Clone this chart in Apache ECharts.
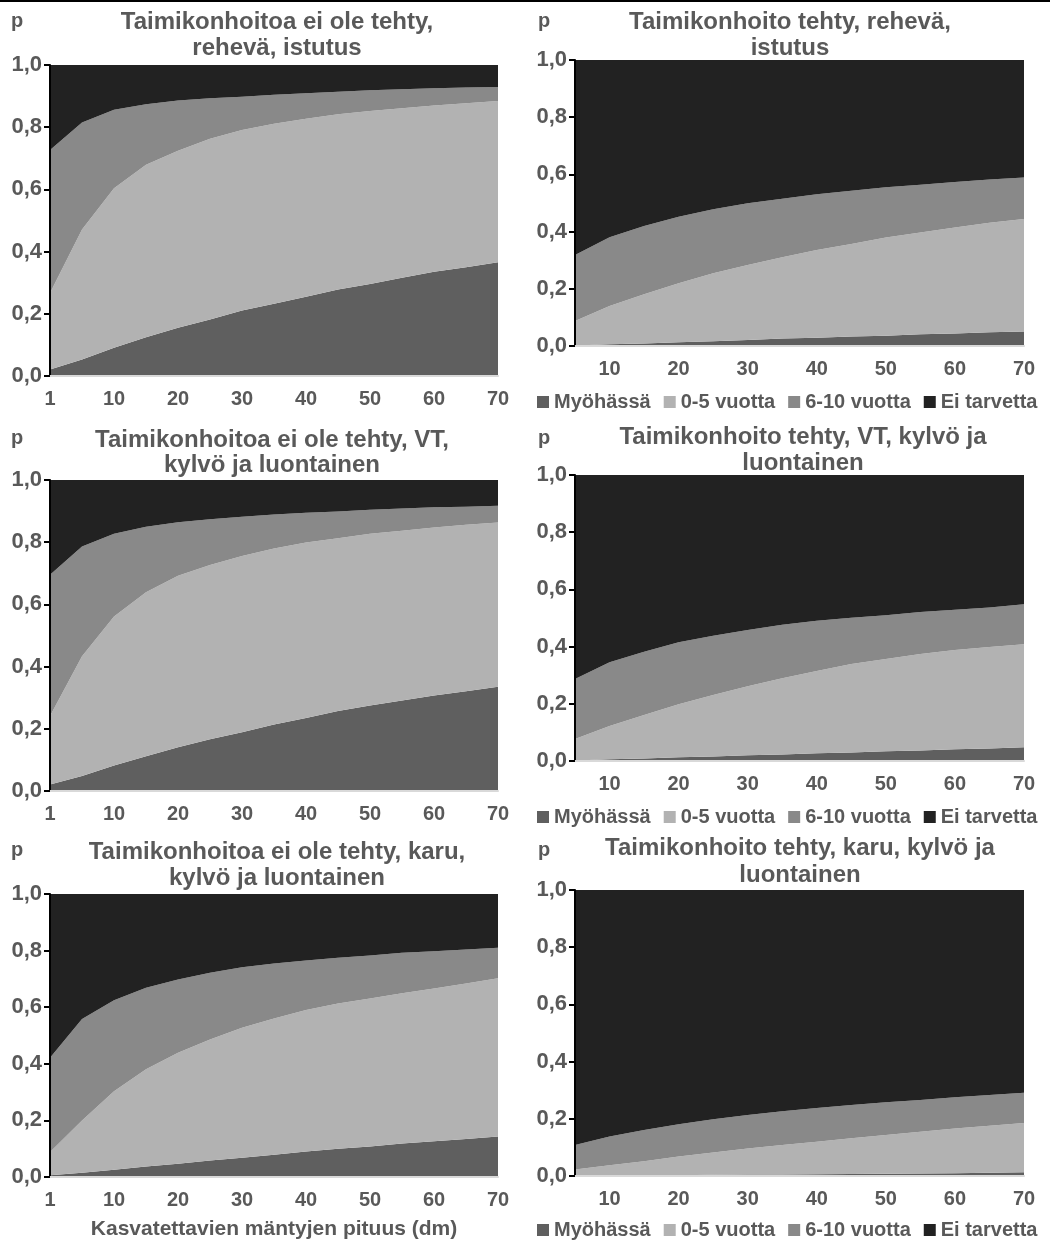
<!DOCTYPE html>
<html>
<head>
<meta charset="utf-8">
<script src="https://cdn.jsdelivr.net/npm/echarts@6/dist/echarts.min.js"></script>
<style>
  html, body { margin: 0; padding: 0; background: #ffffff; }
  #chart { width: 1050px; height: 1245px; }
</style>
</head>
<body>
<div id="chart"></div>
<script>
// ---------- DATA ----------
const catsLeft  = ['1','5','10','15','20','25','30','35','40','45','50','55','60','65','70'];
const catsRight = ['5','10','15','20','25','30','35','40','45','50','55','60','65','70'];
const seriesNames = ['Myöhässä', '0-5 vuotta', '6-10 vuotta', 'Ei tarvetta'];
const yTickValues = [0, 0.2, 0.4, 0.6, 0.8, 1.0];
const xAxisTitle = 'Kasvatettavien mäntyjen pituus (dm)';

// Chart 1: Taimikonhoitoa ei ole tehty, rehevä, istutus
const c1Myoh = [0.021,0.053,0.091,0.125,0.155,0.182,0.211,0.232,0.255,0.278,0.296,0.316,0.335,0.350,0.366];
const c1V05  = [0.246,0.418,0.513,0.554,0.569,0.581,0.580,0.579,0.572,0.564,0.556,0.545,0.535,0.527,0.518];
const c1V610 = [0.460,0.344,0.252,0.195,0.162,0.130,0.107,0.093,0.082,0.072,0.067,0.061,0.055,0.051,0.045];
const c1Ei   = [0.273,0.185,0.144,0.126,0.114,0.107,0.102,0.096,0.091,0.086,0.081,0.078,0.075,0.072,0.071];

// Chart 2: Taimikonhoito tehty, rehevä, istutus
const c2Myoh = [0.002,0.006,0.009,0.013,0.017,0.021,0.026,0.029,0.033,0.036,0.041,0.044,0.048,0.051];
const c2V05  = [0.085,0.134,0.172,0.206,0.237,0.262,0.284,0.307,0.324,0.343,0.356,0.370,0.383,0.393];
const c2V610 = [0.231,0.240,0.239,0.233,0.224,0.216,0.205,0.195,0.186,0.176,0.167,0.159,0.151,0.145];
const c2Ei   = [0.682,0.620,0.580,0.548,0.522,0.501,0.485,0.469,0.457,0.445,0.436,0.427,0.418,0.411];

// Chart 3: Taimikonhoitoa ei ole tehty, VT, kylvö ja luontainen
const c3Myoh = [0.021,0.048,0.082,0.112,0.141,0.166,0.189,0.214,0.235,0.257,0.275,0.291,0.307,0.321,0.335];
const c3V05  = [0.220,0.385,0.479,0.527,0.551,0.561,0.567,0.566,0.564,0.556,0.552,0.546,0.540,0.535,0.528];
const c3V610 = [0.454,0.353,0.266,0.211,0.172,0.147,0.126,0.109,0.096,0.086,0.077,0.071,0.065,0.058,0.054];
const c3Ei   = [0.305,0.214,0.173,0.150,0.136,0.126,0.118,0.111,0.105,0.101,0.096,0.092,0.088,0.086,0.083];

// Chart 4: Taimikonhoito tehty, VT, kylvö ja luontainen
const c4Myoh = [0.002,0.006,0.009,0.013,0.016,0.020,0.023,0.027,0.030,0.034,0.037,0.041,0.044,0.048];
const c4V05  = [0.075,0.116,0.152,0.185,0.215,0.241,0.266,0.288,0.309,0.323,0.337,0.347,0.355,0.360];
const c4V610 = [0.210,0.223,0.221,0.217,0.207,0.197,0.187,0.175,0.162,0.153,0.147,0.141,0.138,0.140];
const c4Ei   = [0.713,0.655,0.618,0.585,0.562,0.542,0.524,0.510,0.499,0.490,0.479,0.471,0.463,0.452];

// Chart 5: Taimikonhoitoa ei ole tehty, karu, kylvö ja luontainen
const c5Myoh = [0.006,0.015,0.026,0.037,0.047,0.058,0.068,0.079,0.090,0.100,0.108,0.118,0.126,0.134,0.143];
const c5V05  = [0.082,0.185,0.277,0.344,0.392,0.428,0.459,0.481,0.500,0.513,0.523,0.531,0.540,0.550,0.559];
const c5V610 = [0.333,0.358,0.322,0.288,0.259,0.236,0.214,0.194,0.175,0.162,0.152,0.143,0.132,0.120,0.108];
const c5Ei   = [0.579,0.442,0.375,0.331,0.302,0.278,0.259,0.246,0.235,0.225,0.217,0.208,0.202,0.196,0.190];

// Chart 6: Taimikonhoito tehty, karu, kylvö ja luontainen
const c6Myoh = [0.001,0.002,0.002,0.003,0.004,0.005,0.005,0.006,0.007,0.008,0.009,0.010,0.011,0.013];
const c6V05  = [0.022,0.036,0.050,0.065,0.078,0.091,0.103,0.114,0.125,0.135,0.146,0.156,0.165,0.172];
const c6V610 = [0.085,0.100,0.109,0.113,0.116,0.117,0.118,0.118,0.116,0.115,0.111,0.109,0.107,0.106];
const c6Ei   = [0.892,0.862,0.839,0.819,0.802,0.787,0.774,0.762,0.752,0.742,0.734,0.725,0.717,0.709];

const titles = [
  ['Taimikonhoitoa ei ole tehty,', 'rehevä, istutus'],
  ['Taimikonhoito tehty, rehevä,', 'istutus'],
  ['Taimikonhoitoa ei ole tehty, VT,', 'kylvö ja luontainen'],
  ['Taimikonhoito tehty, VT, kylvö ja', 'luontainen'],
  ['Taimikonhoitoa ei ole tehty, karu,', 'kylvö ja luontainen'],
  ['Taimikonhoito tehty, karu, kylvö ja', 'luontainen']
];

// ---------- STYLE / LAYOUT ----------
const colors = ['#5f5f5f', '#b2b2b2', '#898989', '#222222'];
const FONT = '"Liberation Sans", Arial, sans-serif';
const TXT = '#595959';

const panels = [
  { cats: catsLeft,  data: [c1Myoh, c1V05, c1V610, c1Ei], grid: {left: 50,  top: 65,  width: 448, height: 311}, side: 'L', title: {x: 277, y1: 22,  y2: 48},  p: {x: 17,  y: 21},  legend: null },
  { cats: catsRight, data: [c2Myoh, c2V05, c2V610, c2Ei], grid: {left: 575, top: 60,  width: 449, height: 286}, side: 'R', title: {x: 790, y1: 22,  y2: 48},  p: {x: 544, y: 21},  legend: 392 },
  { cats: catsLeft,  data: [c3Myoh, c3V05, c3V610, c3Ei], grid: {left: 50,  top: 480, width: 448, height: 311}, side: 'L', title: {x: 272, y1: 440, y2: 465}, p: {x: 17,  y: 438}, legend: null },
  { cats: catsRight, data: [c4Myoh, c4V05, c4V610, c4Ei], grid: {left: 575, top: 475, width: 449, height: 286}, side: 'R', title: {x: 803, y1: 437, y2: 463}, p: {x: 544, y: 438}, legend: 807 },
  { cats: catsLeft,  data: [c5Myoh, c5V05, c5V610, c5Ei], grid: {left: 50,  top: 894, width: 448, height: 283}, side: 'L', title: {x: 277, y1: 852, y2: 878}, p: {x: 17,  y: 850}, legend: null, xName: true },
  { cats: catsRight, data: [c6Myoh, c6V05, c6V610, c6Ei], grid: {left: 575, top: 890, width: 449, height: 286}, side: 'R', title: {x: 800, y1: 848, y2: 875}, p: {x: 544, y: 850}, legend: 1220 }
];

const grids = [], xAxes = [], yAxes = [], series = [], legends = [], graphics = [];

panels.forEach((pn, i) => {
  grids.push(Object.assign({}, pn.grid));
  const xa = {
    type: 'category', gridIndex: i, data: pn.cats, boundaryGap: false, z: 5,
    axisLine: { show: true, lineStyle: { color: '#d9d9d9', width: 2 } },
    axisTick: { show: false },
    splitLine: { show: false },
    axisLabel: {
      interval: (idx, v) => (pn.side === 'L' && v === '1') || (+v % 10 === 0),
      margin: 13, color: TXT, fontSize: 20, fontWeight: 'bold', fontFamily: FONT
    }
  };
  if (pn.xName) {
    xa.name = xAxisTitle;
    xa.nameLocation = 'middle';
    xa.nameGap = 42;
    xa.nameTextStyle = { color: TXT, fontSize: 21, fontWeight: 'bold', fontFamily: FONT };
  }
  xAxes.push(xa);
  yAxes.push({
    type: 'value', gridIndex: i, min: 0, max: 1, interval: 0.2, z: 5,
    axisLine: { show: true, lineStyle: { color: '#000000', width: 2 } },
    axisTick: { show: true, length: 6, lineStyle: { color: '#000000', width: 2 } },
    splitLine: { show: false },
    axisLabel: {
      margin: 8, color: TXT, fontSize: 22, fontWeight: 'bold', fontFamily: FONT,
      formatter: v => (yTickValues.some(t => Math.abs(t - v) < 1e-9) ? v.toFixed(1).replace('.', ',') : '')
    }
  });
  seriesNames.forEach((nm, k) => {
    series.push({
      name: nm, type: 'line', xAxisIndex: i, yAxisIndex: i, stack: 'panel' + i,
      data: pn.data[k], showSymbol: false, symbol: 'none',
      lineStyle: { width: 0, color: colors[k] },
      itemStyle: { color: colors[k] },
      areaStyle: { color: colors[k], opacity: 1 },
      emphasis: { disabled: true }
    });
  });
  if (pn.legend !== null) {
    legends.push({
      data: seriesNames, left: 537, top: pn.legend, padding: 0,
      icon: 'rect', itemWidth: 12, itemHeight: 12, itemGap: 13,
      selectedMode: false,
      textStyle: { color: TXT, fontSize: 20, fontWeight: 'bold', fontFamily: FONT }
    });
  }
  const tFont = 'bold 24px ' + FONT;
  [pn.title.y1, pn.title.y2].forEach((yy, li) => {
    graphics.push({
      type: 'text', x: pn.title.x, y: yy, silent: true,
      style: { text: titles[i][li], font: tFont, fill: TXT,
               align: 'center', textAlign: 'center', verticalAlign: 'middle', textVerticalAlign: 'middle' }
    });
  });
  graphics.push({
    type: 'text', x: pn.p.x, y: pn.p.y, silent: true,
    style: { text: 'p', font: 'bold 20px ' + FONT, fill: TXT,
             align: 'center', textAlign: 'center', verticalAlign: 'middle', textVerticalAlign: 'middle' }
  });
});

graphics.push({
  type: 'line', silent: true,
  shape: { x1: 0, y1: 1, x2: 1050, y2: 1 },
  style: { stroke: '#000000', lineWidth: 2 }
});

const chart = echarts.init(document.getElementById('chart'), null, { renderer: 'canvas' });
chart.setOption({
  animation: false,
  backgroundColor: '#ffffff',
  grid: grids,
  xAxis: xAxes,
  yAxis: yAxes,
  legend: legends,
  series: series,
  graphic: graphics
});
</script>
</body>
</html>
